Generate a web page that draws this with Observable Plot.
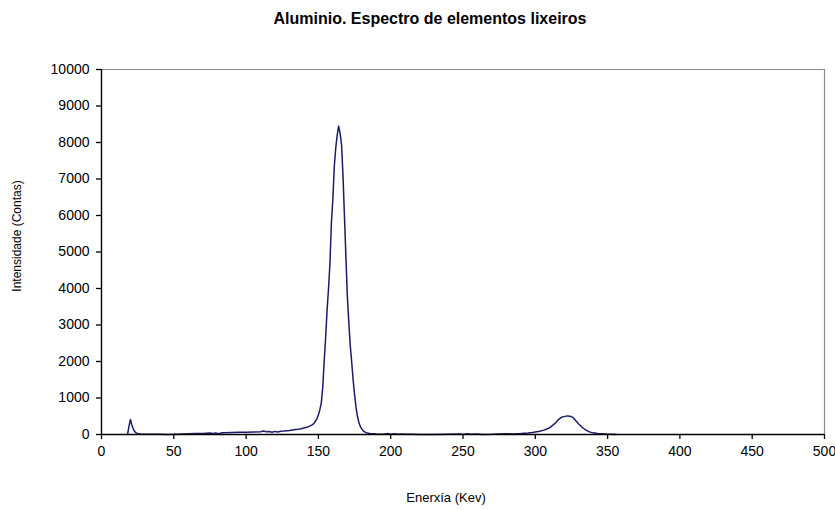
<!DOCTYPE html>
<html>
<head>
<meta charset="utf-8">
<script src="https://cdn.jsdelivr.net/npm/d3@7"></script>
<script src="https://cdn.jsdelivr.net/npm/@observablehq/plot@0.6"></script>
<style>
  html, body { margin: 0; padding: 0; background: #fff; }
  #chart svg { overflow: visible; }
</style>
</head>
<body>
<div id="chart"></div>
<script>
// Aluminium light-element spectrum: energy (keV) vs counts
const energy = [
  18, 19, 20, 21, 22, 23, 24, 25, 27, 29, 31, 33, 36, 40, 45, 50, 53, 55, 58,
  60, 65, 70, 75, 77, 79, 81, 83, 85, 90, 95, 100, 105, 110, 112, 114, 116,
  118, 120, 122, 124, 126, 130, 133, 136, 138, 140, 142, 144, 146,
  147, 148, 149, 150, 151, 152, 153, 154, 155, 156, 157, 158, 159, 160,
  161, 162, 163, 164, 165, 166, 167, 168, 169, 170, 171, 172, 173, 174,
  175, 176, 177, 178, 179, 180, 181, 182, 183, 184, 185, 186,
  188, 190, 195, 198, 200, 203, 205, 208, 210, 215, 220, 230, 240, 248,
  250, 253, 255, 260, 263, 270, 275, 280, 285, 290, 295, 298,
  300, 303, 306, 308, 310, 312, 314, 316, 318, 320, 322, 324, 326, 328,
  330, 332, 334, 336, 338, 340, 343, 346, 350, 353, 356
];
const counts = [
  0, 220, 410, 260, 150, 80, 45, 30, 15, 10, 5, 10, 8, 5, 3, 5, 10, 15, 12,
  20, 25, 30, 40, 25, 45, 20, 45, 50, 55, 60, 65, 70, 75, 95, 75, 80,
  60, 85, 70, 90, 95, 110, 130, 145, 160, 180, 200, 230, 270,
  310, 370, 430, 540, 680, 860, 1290, 2000, 2650, 3400, 4000, 4700, 5800, 6450,
  7350, 7850, 8200, 8450, 8250, 7950, 7100, 6000, 4900, 3800, 3100, 2450, 2000, 1500,
  1100, 750, 500, 330, 220, 150, 100, 70, 50, 40, 30, 25,
  20, 15, 10, 25, 10, 20, 5, 15, 5, 10, 0, 0, 5, 15,
  0, 20, 5, 15, 0, 5, 15, 20, 15, 25, 40, 55,
  70, 90, 120, 150, 190, 250, 320, 410, 470, 490, 510, 500, 470, 380,
  290, 210, 150, 100, 65, 45, 30, 20, 10, 5, 0
];
const xTicks = [0, 50, 100, 150, 200, 250, 300, 350, 400, 450, 500];
const yTicks = [0, 1000, 2000, 3000, 4000, 5000, 6000, 7000, 8000, 9000, 10000];

const titleText = "Aluminio. Espectro de elementos lixeiros";
const xLabel = "Enerxía (Kev)";
const yLabel = "Intensidade (Contas)";

const spectrum = energy.map((e, i) => ({energy: e, counts: counts[i]}));
const plain = (d) => String(d);

const chart = Plot.plot({
  width: 835,
  height: 510,
  marginLeft: 101,
  marginRight: 11,
  marginTop: 69,
  marginBottom: 76,
  style: {fontFamily: "'Liberation Sans', Arial, sans-serif", fontSize: "14px", color: "#000", background: "#fff"},
  x: {domain: [0, 500], ticks: xTicks, label: null},
  y: {domain: [0, 10000], ticks: yTicks, label: null},
  marks: [
    // plot-area border (top and right) in grey
    Plot.ruleY([10000], {stroke: "#8a8a8a", strokeWidth: 1.2}),
    Plot.ruleX([500], {stroke: "#8a8a8a", strokeWidth: 1.2}),
    Plot.axisX({ticks: xTicks, tickFormat: plain, tickSize: 5, tickPadding: 7, stroke: "#000", strokeWidth: 1.3, fontSize: 14}),
    Plot.axisY({ticks: yTicks, tickFormat: plain, tickSize: 5, tickPadding: 7, stroke: "#000", strokeWidth: 1.3, fontSize: 14}),
    Plot.line(spectrum, {x: "energy", y: "counts", stroke: "#1c1c6a", strokeWidth: 1.5}),
    // axis lines
    Plot.ruleX([0], {stroke: "#000", strokeWidth: 1.4}),
    Plot.ruleY([0], {stroke: "#000", strokeWidth: 1.4}),
    // title
    Plot.text([titleText], {frameAnchor: "top", dy: -57, dx: -33, fontWeight: "bold", fontSize: 16, fill: "#000"}),
    // x axis label
    Plot.text([xLabel], {frameAnchor: "bottom", dy: 67, dx: -17, fontSize: 13, fill: "#000"}),
    // y axis label
    Plot.text([yLabel], {frameAnchor: "left", textAnchor: "middle", dx: -84, dy: -16, rotate: -90, fontSize: 12, fill: "#000"})
  ]
});

document.getElementById("chart").appendChild(chart);
</script>
</body>
</html>
